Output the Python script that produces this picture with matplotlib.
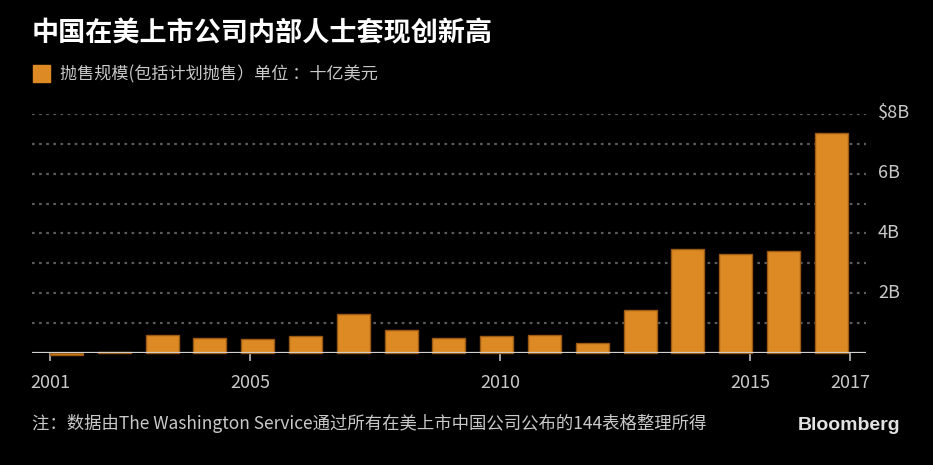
import matplotlib
matplotlib.use("Agg")
import matplotlib.pyplot as plt

years = list(range(2001, 2018))
values = [-0.07, 0.05, 0.60, 0.49, 0.46, 0.57, 1.32, 0.78, 0.49, 0.57, 0.60,
          0.32, 1.43, 3.49, 3.32, 3.41, 7.36]
xtick_years = [2001, 2005, 2010, 2015, 2017]
ytick_vals = [2, 4, 6, 8]
ytick_labels = ["2B", "4B", "6B", "$8B"]

title = "中国在美上市公司内部人士套现创新高"
legend_label = "抛售规模(包括计划抛售）单位 ：十亿美元"
note = "注：数据由The Washington Service通过所有在美上市中国公司公布的144表格整理所得"

BG = "#000000"
BAR = "#dd8a24"
BAR_EDGE = "#9a5a14"
TXT = "#c9c9c9"
LATIN = ["Liberation Sans Narrow", "Noto Sans CJK SC", "DejaVu Sans"]
CJK = ["Noto Sans CJK SC", "DejaVu Sans"]
MIX = ["Liberation Sans Narrow", "Noto Sans CJK SC", "DejaVu Sans"]

W, H = 933, 465
fig = plt.figure(figsize=(W / 100, H / 100), dpi=100, facecolor=BG)

left_px, right_px, top_px, base_px = 32, 866, 114, 353
ax = fig.add_axes([left_px / W, 1 - base_px / H, (right_px - left_px) / W,
                   (base_px - top_px) / H])
ax.set_facecolor(BG)

# bar geometry in index units (bar pitch 47.8px, tick pitch 50px)
pitch = 47.8
first_center = 66.5
xs = list(range(len(years)))
ax.bar(xs, values, width=33 / pitch, color=BAR, edgecolor=BAR_EDGE,
       linewidth=1.0, zorder=3, clip_on=False)

ax.set_xlim((left_px - first_center) / pitch, (right_px - first_center) / pitch)
ax.set_ylim(0, 8)

# gridlines every 1B
for g in range(1, 9):
    ax.axhline(g, color="#5a5a5a", lw=1.6, ls=(0, (1.2, 2.0)), zorder=1)

# baseline
ax.axhline(0, color="#d0d0d0", lw=1.6, zorder=4)

for s in ax.spines.values():
    s.set_visible(False)

tick_pos = [((50 + 50 * (y - 2001)) - first_center) / pitch for y in xtick_years]
ax.set_xticks(tick_pos)
ax.set_xticklabels([str(y) for y in xtick_years])
ax.tick_params(axis="x", colors="#bdbdbd", length=6, width=1.2, pad=9,
               labelcolor=TXT, labelsize=13)
for lab in ax.get_xticklabels():
    lab.set_family(LATIN)

ax.set_yticks([])
for v, lab in zip(ytick_vals, ytick_labels):
    ax.text(878 / W, 1 - (base_px - 30 * v) / H, lab, transform=fig.transFigure,
            ha="left", va="center", color=TXT, fontsize=13, family=LATIN)

fig.text(32 / W, 1 - 33 / H, title, color="white", fontsize=19.5,
         fontweight="bold", family=CJK, ha="left", va="center")

fig.patches.append(plt.Rectangle((33 / W, 1 - 82 / H), 17 / W, 17 / H,
                                 transform=fig.transFigure, color=BAR,
                                 figure=fig))
fig.text(60 / W, 1 - 74 / H, legend_label, color=TXT, fontsize=12.3,
         family=CJK, ha="left", va="center")

fig.text(32 / W, 1 - 423 / H, note, color=TXT, fontsize=12.5, family=MIX,
         ha="left", va="center")
fig.text(900 / W, 1 - 425 / H, "Bloomberg", color="#e2e2e2", fontsize=14,
         fontweight="bold", family=["Liberation Sans", "DejaVu Sans"],
         ha="right", va="center")

fig.savefig("out.png", dpi=100, facecolor=BG)
